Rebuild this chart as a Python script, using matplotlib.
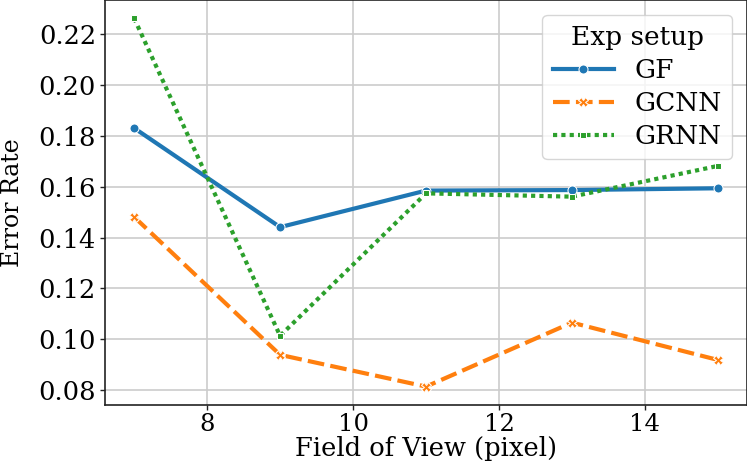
import numpy as np
import pandas as pd
import matplotlib
matplotlib.use("Agg")
import matplotlib.pyplot as plt
import seaborn as sns

# field of view values and error rates
fov = [7, 9, 11, 13, 15]
gf = [0.1831, 0.1441, 0.1585, 0.1587, 0.1594]
gcnn = [0.1481, 0.0938, 0.0813, 0.1065, 0.0918]
grnn = [0.2263, 0.1013, 0.1574, 0.1561, 0.1682]
setups = ['GF', 'GCNN', 'GRNN']

df = pd.DataFrame({
    'Field of View (pixel)': fov * 3,
    'Error Rate': gf + gcnn + grnn,
    'Exp setup': [s for s in setups for _ in fov],
})

plt.rcParams['font.family'] = ['DejaVu Serif']
plt.rcParams['font.size'] = 18

fig = plt.figure(figsize=(7.47, 4.65), dpi=100)
ax = fig.add_axes([105 / 747, 60 / 465, 642 / 747, 405 / 465])
ax.grid(True, color='#cccccc', linewidth=1.2)
ax.set_axisbelow(True)

sns.lineplot(data=df, x='Field of View (pixel)', y='Error Rate',
             hue='Exp setup', style='Exp setup', markers=True,
             linewidth=3, markersize=6.5, ax=ax)

for s in ax.spines.values():
    s.set_color('#222222')
    s.set_linewidth(1.2)
ax.tick_params(labelsize=18.5, length=3.5, width=1.0, color='#222222', pad=3)
ax.tick_params(axis='x', labelsize=17.5, pad=2)
ax.set_yticks([0.08, 0.10, 0.12, 0.14, 0.16, 0.18, 0.20, 0.22])
ax.set_xticks([8, 10, 12, 14])
ax.set_xlabel('Field of View (pixel)', fontsize=18.5, labelpad=0)
ax.set_ylabel('Error Rate', fontsize=17, labelpad=10)

leg = ax.legend(title='Exp setup', loc='upper right', fontsize=19,
                title_fontsize=19, framealpha=0.8, borderaxespad=0.55,
                handlelength=2.3, labelspacing=0.3, borderpad=0.4)

fig.savefig('out.png', dpi=100)
